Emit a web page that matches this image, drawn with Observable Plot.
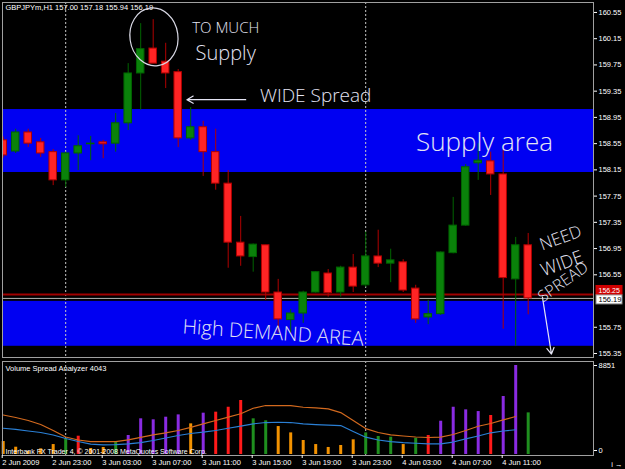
<!DOCTYPE html>
<html><head><meta charset="utf-8">
<script src="https://cdn.jsdelivr.net/npm/d3@7"></script>
<script src="https://cdn.jsdelivr.net/npm/@observablehq/plot@0.6"></script>
<style>
html,body{margin:0;padding:0;background:#000;}
#wrap{position:relative;width:625px;height:469px;background:#000;overflow:hidden;}
#main,#vol{position:absolute;left:0;}
#main{top:0;} #vol{top:358px;}
svg{display:block;}
</style></head><body><div id="wrap"><div id="main"></div><div id="vol"></div></div>
<script>
// ---------- data (hourly bars, 2 Jun 19:00 .. 4 Jun 13:00) ----------
const opens  = [158.60,158.43,158.72,158.57,158.42,157.99,158.40,158.54,158.57,158.55,158.86,159.62,160.00,159.80,159.64,158.63,158.80,158.42,157.94,157.04,156.82,157.00,156.28,155.86,155.96,156.28,156.57,156.28,156.66,156.39,156.83,156.72,156.74,156.34,155.90,155.95,156.88,157.30,158.25,158.28,158.08,156.48,157.00];
const highs  = [158.65,158.77,158.77,158.63,158.46,158.42,158.67,158.66,158.60,159.01,159.77,160.38,160.44,160.08,159.68,159.10,158.89,158.77,158.14,157.44,157.02,157.00,156.48,156.02,156.30,156.60,156.63,156.68,156.86,157.20,157.23,156.94,156.78,156.39,156.16,156.90,157.73,158.23,158.55,158.42,158.46,157.12,157.18];
const lows   = [158.33,158.40,158.49,158.34,157.91,157.88,158.14,158.29,158.32,158.42,158.75,159.06,159.77,159.39,158.49,158.60,158.05,157.84,156.65,156.68,156.59,156.16,155.66,155.66,155.81,156.27,156.21,156.21,156.28,156.36,156.66,156.43,156.28,155.81,155.79,155.93,156.87,157.29,157.99,157.76,155.72,155.46,155.94];
const closes = [158.37,158.72,158.55,158.40,157.99,158.40,158.51,158.55,158.54,158.86,159.62,159.99,159.77,159.62,158.63,158.80,158.42,157.94,157.04,156.83,157.01,156.28,155.87,155.96,156.28,156.59,156.27,156.66,156.37,156.83,156.72,156.77,156.31,155.87,155.95,156.89,157.30,158.19,158.29,158.08,156.50,157.00,156.19];
const volumes = [1290,725,300,565,990,1560,1820,600,700,1190,1890,3550,3450,3710,3940,3050,4110,4210,4700,5370,3550,3350,2780,2150,1390,990,700,895,1460,2150,1790,1720,990,1620,1890,3310,4700,4440,4270,3880,5770,8851,4140];
const volTypes = ["o","o","o","o","o","g","r","o","o","g","p","p","p","p","p","o","p","r","r","r","g","g","o","o","o","o","o","o","o","g","g","g","o","g","r","p","p","p","p","r","p","p","g"];
const maSlow = [3930,3680,3380,2980,2390,1740,1440,1290,1290,1290,1450,1700,1950,2150,2390,2700,3050,3380,3710,4050,4600,4870,4870,4870,4700,4640,4540,4170,3380,2580,2190,1960,1840,1740,1690,1720,1990,2390,2810,3080,3450,3780];
const maFast = [2610,2490,2340,2190,1940,1590,1290,1040,960,990,1060,1190,1390,1640,1890,2090,2220,2390,2610,2830,3050,3180,3210,3180,3050,2980,2930,2880,2290,1720,1440,1290,1190,1120,1060,1060,1240,1560,1840,2160,2340,2460];
const timeTicks  = [0,4,8,12,16,20,24,28,32,36,40];
const timeLabels = ["2 Jun 2009","2 Jun 23:00","3 Jun 03:00","3 Jun 07:00","3 Jun 11:00","3 Jun 15:00","3 Jun 19:00","3 Jun 23:00","4 Jun 03:00","4 Jun 07:00","4 Jun 11:00"];
const daySeparators = [5, 29];
const priceTicks = [160.55,160.15,159.75,159.35,158.95,158.55,158.15,157.75,157.35,156.95,156.55,155.75,155.35];
const bandLow  = [158.11, 155.46];
const bandHigh = [159.07, 156.145];
const askPrice = 156.25, bidPrice = 156.19;
const volMax = 8851;
const titleText = "GBPJPYm,H1 157.00 157.18 155.94 156.19";
const indicatorName = "Volume Spread Analyzer 4043";
const copyright = "Interbank FX Trader 4, \u00a9 2001-2008 MetaQuotes Software Corp.";
// hand-drawn annotations (bar index, price)
const annText = ["TO MUCH","Supply","WIDE Spread","Supply area","High DEMAND AREA","NEED","WIDE","SPREAD"];
const annX    = [17.8, 17.8, 25.0, 38.5, 21.6, 44.6, 44.7, 44.8];
const annY    = [160.31, 159.92, 159.28, 158.57, 155.66, 157.11, 156.72, 156.44];
const annSize = [15, 20, 19, 26, 20, 17, 18, 16];
const annRot  = [0, 0, 0, 0, 4, -20, -20, -35];
const arrX1 = [19.4, 43.14], arrY1 = [159.22, 156.21];
const arrX2 = [14.7, 43.86], arrY2 = [159.22, 155.34];
const circleX = 12.1, circleY = 160.17;

// ---------- build ----------
const FONT = "'Liberation Sans', Arial, sans-serif";
const HAND = "'Open Sans', sans-serif";
const candles = opens.map((o, i) => ({i, o, h: highs[i], l: lows[i], c: closes[i], up: closes[i] >= o}));
const vols = volumes.map((v, i) => ({i, v, t: volTypes[i]}));
const ma = maSlow.map((s, i) => ({i, s, f: maFast[i]}));
const volColor = {o: "#f39200", g: "#1f8f1f", r: "#ff1a1a", p: "#8a2be2"};
const bands = bandLow.map((lo, k) => ({lo, hi: bandHigh[k]}));
const anns = annText.map((t, k) => ({t, x: annX[k], y: annY[k], s: annSize[k], r: annRot[k]}));
const arrows = arrX1.map((x1, k) => ({x1, y1: arrY1[k], x2: arrX2[k], y2: arrY2[k]}));
const xDomain = [-0.056, 47.224];
const labelMap = new Map(timeTicks.map((t, k) => [t, timeLabels[k]]));
const UPW = "#006400", DNW = "#b00000", UPB = "#0a820a", DNB = "#ff2424";
const ASK_DY = -4, BID_DY = 1.5;

const annMarks = anns.map(a => Plot.text([a], {x: "x", y: "y", text: "t", fontSize: a.s, rotate: a.r,
  fill: "#e4e4f4", fontFamily: HAND, fontWeight: 300, letterSpacing: 1}));

const main = Plot.plot({
  width: 625, height: 358,
  marginLeft: 2, marginRight: 32, marginTop: 2, marginBottom: 1,
  style: {background: "#000", color: "#fff", fontFamily: FONT, fontSize: "7.5px", overflow: "visible"},
  x: {domain: xDomain, axis: null},
  y: {domain: [155.289, 160.702], axis: null},
  marks: [
    Plot.rect(bands, {y1: "lo", y2: "hi", fill: "#0000f2"}),
    Plot.ruleX(daySeparators, {stroke: "#c8c8c8", strokeDasharray: "2,2"}),
    Plot.ruleY([askPrice], {stroke: "#a00000", strokeWidth: 2}),
    Plot.ruleY([bidPrice], {stroke: "#b4b4b4"}),
    Plot.ruleX(candles, {x: "i", y1: "l", y2: "h", stroke: d => d.up ? UPW : DNW, clip: true}),
    Plot.rect(candles, {x1: d => d.i - 0.3, x2: d => d.i + 0.3, y1: "o", y2: "c",
      fill: d => d.up ? UPB : DNB, stroke: d => d.up ? UPW : DNW, strokeWidth: 1, clip: true}),
    Plot.frame({stroke: "#a0a0a0"}),
    Plot.axisY(priceTicks, {anchor: "right", tickSize: 3, tickPadding: 2, tickFormat: d => d.toFixed(2),
      color: "#ffffff", fontSize: 7.5}),
    ...annMarks,
    Plot.arrow(arrows, {x1: "x1", y1: "y1", x2: "x2", y2: "y2", stroke: "#e4e4f4", strokeWidth: 1.2, headLength: 9}),
    Plot.text([titleText], {frameAnchor: "top-left", dx: 3, dy: 2, fill: "#fff", fontSize: 7.5, lineAnchor: "top"}),
    Plot.text([askPrice], {y: d => d, text: d => d.toFixed(2), frameAnchor: "right", dx: 5, dy: ASK_DY, textAnchor: "start", fill: "#fff", fontSize: 7}),
    Plot.text([bidPrice], {y: d => d, text: d => d.toFixed(2), frameAnchor: "right", dx: 5, dy: BID_DY, textAnchor: "start", fill: "#000", fontSize: 7.5})
  ]
});
document.getElementById("main").appendChild(main);

// price label boxes (placed behind the labels via the y scale) + ellipse annotation
{
  const svg = d3.select(main);
  const xs = main.scale("x"), ys = main.scale("y");
  const right = xs.range[1];
  const labels = [
    {p: askPrice, dy: ASK_DY, fill: "#d00000", stroke: "#d00000"},
    {p: bidPrice, dy: BID_DY, fill: "#ffffff", stroke: "#909090"}
  ];
  svg.selectAll("text").each(function() {
    const lab = labels.find(l => this.textContent === l.p.toFixed(2));
    if (!lab) return;
    const g = this.parentNode;
    const cy = ys.apply(lab.p) + lab.dy;
    const r = document.createElementNS("http://www.w3.org/2000/svg", "rect");
    r.setAttribute("x", right + 3); r.setAttribute("y", cy - 4.5);
    r.setAttribute("width", 26); r.setAttribute("height", 9);
    r.setAttribute("fill", lab.fill); r.setAttribute("stroke", lab.stroke);
    g.parentNode.insertBefore(r, g);
  });
  const cx = xs.apply(circleX), cy = ys.apply(circleY);
  svg.append("ellipse").attr("cx", cx).attr("cy", cy).attr("rx", 24).attr("ry", 29)
    .attr("transform", `rotate(-8 ${cx} ${cy})`)
    .attr("fill", "none").attr("stroke", "#d8d8e4").attr("stroke-width", 1.2);
}

const vol = Plot.plot({
  width: 625, height: 111,
  marginLeft: 2, marginRight: 32, marginTop: 3, marginBottom: 14,
  style: {background: "#000", color: "#fff", fontFamily: FONT, fontSize: "7.5px", overflow: "visible"},
  x: {domain: xDomain, axis: null},
  y: {domain: [-99, 9249], axis: null},
  marks: [
    Plot.ruleX(daySeparators, {stroke: "#c8c8c8", strokeDasharray: "2,2"}),
    Plot.ruleX(vols, {x: "i", y1: 0, y2: "v", stroke: d => volColor[d.t], strokeWidth: 3}),
    Plot.line(ma, {x: "i", y: "s", stroke: "#d2691e", strokeWidth: 1.2}),
    Plot.line(ma, {x: "i", y: "f", stroke: "#2a7fd4", strokeWidth: 1.2}),
    Plot.frame({stroke: "#a0a0a0"}),
    Plot.axisY([volMax], {anchor: "right", tickSize: 3, tickPadding: 2, tickFormat: d => String(d), color: "#fff", fontSize: 7.5}),
    Plot.axisY([0], {anchor: "right", tickSize: 3, tickPadding: 2, tickFormat: d => String(d), color: "#fff", fontSize: 7.5, dy: -4}),
    Plot.axisX(timeTicks, {anchor: "bottom", tickSize: 3, tickPadding: 1, textAnchor: "start", dx: -1,
      tickFormat: d => labelMap.get(d), color: "#fff", fontSize: 7.5}),
    Plot.text([indicatorName], {frameAnchor: "top-left", dx: 3, dy: 4, lineAnchor: "top", fill: "#fff", fontSize: 7.5}),
    Plot.text([copyright], {frameAnchor: "bottom-left", dx: 3, dy: -2, lineAnchor: "bottom", fill: "#fff", fontSize: 7})
  ]
});
document.getElementById("vol").appendChild(vol);
</script>
</body></html>
